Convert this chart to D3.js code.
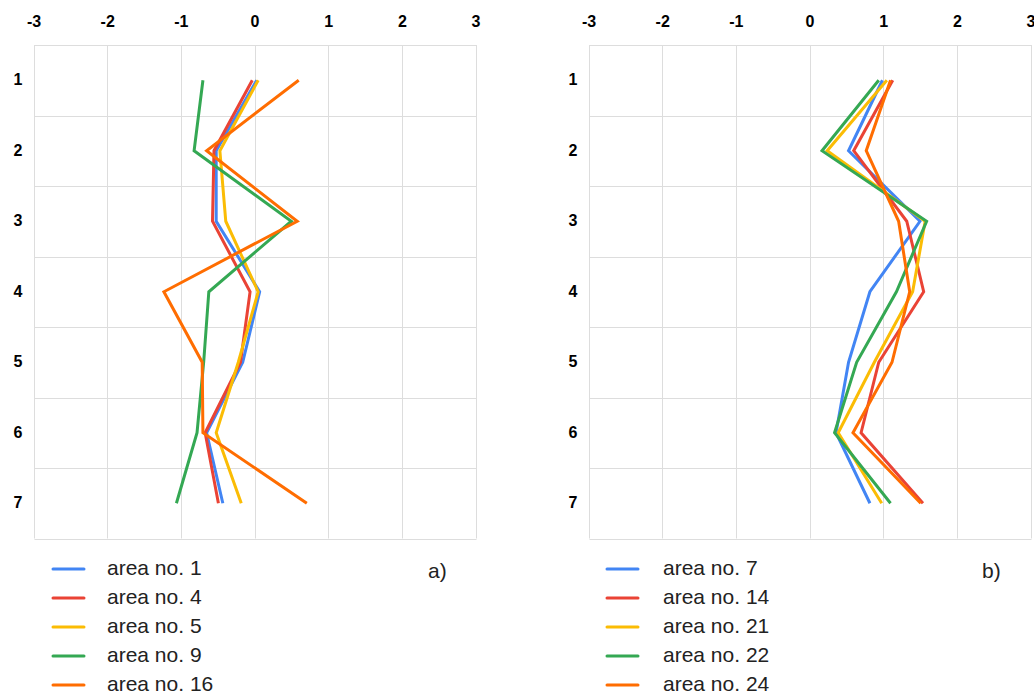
<!DOCTYPE html>
<html>
<head>
<meta charset="utf-8">
<script src="https://cdn.jsdelivr.net/npm/d3@7"></script>
<style>
  html, body { margin: 0; padding: 0; background: #fff; }
  svg { display: block; }
</style>
</head>
<body>
<svg id="chart" width="1034" height="692"></svg>
<script>
// ---- data ----
const categories = [1, 2, 3, 4, 5, 6, 7];
const xTicks = [-3, -2, -1, 0, 1, 2, 3];

const namesA = ["area no. 1", "area no. 4", "area no. 5", "area no. 9", "area no. 16"];
const area1  = [0.03, -0.52, -0.52, 0.07, -0.16, -0.65, -0.43];
const area4  = [-0.03, -0.55, -0.57, -0.06, -0.19, -0.67, -0.49];
const area5  = [0.05, -0.47, -0.39, 0.05, -0.22, -0.52, -0.18];
const area9  = [-0.70, -0.82, 0.50, -0.62, -0.69, -0.78, -1.06];
const area16 = [0.60, -0.65, 0.58, -1.23, -0.71, -0.70, 0.71];

const namesB = ["area no. 7", "area no. 14", "area no. 21", "area no. 22", "area no. 24"];
const area7  = [0.99, 0.53, 1.50, 0.82, 0.53, 0.36, 0.82];
const area14 = [1.13, 0.60, 1.32, 1.55, 0.94, 0.70, 1.54];
const area21 = [1.05, 0.24, 1.57, 1.40, 0.88, 0.39, 0.98];
const area22 = [0.94, 0.17, 1.59, 1.18, 0.64, 0.34, 1.10];
const area24 = [1.10, 0.77, 1.21, 1.36, 1.12, 0.59, 1.51];

const colors = ["#4285F4", "#EA4335", "#FBBC04", "#34A853", "#FF6D01"];
const panelLabels = ["a)", "b)"];

// ---- drawing ----
const svg = d3.select("#chart");

const panels = [
  { names: namesA, series: [area1, area4, area5, area9, area16], x0: 33.5, x1: 475.5, legX: 53, textX: 107, tagX: 428 },
  { names: namesB, series: [area7, area14, area21, area22, area24], x0: 588.5, x1: 1030.5, legX: 607, textX: 663, tagX: 982 }
];

const plotTop = 45, plotBottom = 538.5;

panels.forEach((p, pi) => {
  const g = svg.append("g");
  const x = d3.scaleLinear().domain([-3, 3]).range([p.x0, p.x1]);
  const y = d3.scaleBand().domain(categories).range([plotTop, plotBottom]);

  // grid: vertical lines
  g.append("g").selectAll("line").data(xTicks).join("line")
    .attr("x1", d => Math.round(x(d)) + 0.5).attr("x2", d => Math.round(x(d)) + 0.5)
    .attr("y1", plotTop).attr("y2", plotBottom)
    .attr("stroke", "#dddddd").attr("stroke-width", 1);
  // grid: horizontal band boundaries
  const bounds = categories.map(c => y(c)).concat([plotBottom]);
  g.append("g").selectAll("line").data(bounds).join("line")
    .attr("x1", Math.round(x(-3)) + 0.5).attr("x2", Math.round(x(3)) + 0.5)
    .attr("y1", d => Math.round(d) + 0.5).attr("y2", d => Math.round(d) + 0.5)
    .attr("stroke", "#dddddd").attr("stroke-width", 1);

  // top axis
  const ax = g.append("g").attr("transform", `translate(0,${plotTop})`)
    .call(d3.axisTop(x).tickValues(xTicks).tickSize(0).tickPadding(18).tickFormat(d => String(d)));
  ax.select(".domain").remove();
  ax.selectAll("text").attr("font-family", "Liberation Sans, Arial, sans-serif")
    .attr("font-size", 16).attr("font-weight", "bold").attr("fill", "#000");

  // left axis
  const ay = g.append("g").attr("transform", `translate(${p.x0},0)`)
    .call(d3.axisLeft(y).tickSize(0).tickPadding(11));
  ay.select(".domain").remove();
  ay.selectAll("text").attr("font-family", "Liberation Sans, Arial, sans-serif")
    .attr("font-size", 16).attr("font-weight", "bold").attr("fill", "#000");

  // lines
  const line = d3.line()
    .x(d => x(d.v))
    .y(d => y(d.c) + y.bandwidth() / 2);
  p.series.forEach((s, i) => {
    g.append("path")
      .datum(s.map((v, k) => ({ c: categories[k], v })))
      .attr("d", line)
      .attr("fill", "none")
      .attr("stroke", colors[i])
      .attr("stroke-width", 3)
      .attr("stroke-linejoin", "miter")
      .attr("stroke-linecap", "butt");
  });

  // legend
  const leg = g.append("g");
  p.names.forEach((n, i) => {
    const yy = 569 + i * 29;
    leg.append("line")
      .attr("x1", p.legX).attr("x2", p.legX + 31)
      .attr("y1", yy).attr("y2", yy)
      .attr("stroke", colors[i]).attr("stroke-width", 3).attr("stroke-linecap", "round");
    leg.append("text")
      .attr("x", p.textX).attr("y", yy + 6)
      .attr("font-family", "Liberation Sans, Arial, sans-serif")
      .attr("font-size", 21).attr("fill", "#222")
      .text(n);
  });

  g.append("text")
    .attr("x", p.tagX).attr("y", 578)
    .attr("font-family", "Liberation Sans, Arial, sans-serif")
    .attr("font-size", 21).attr("fill", "#222")
    .text(panelLabels[pi]);
});
</script>
</body>
</html>
